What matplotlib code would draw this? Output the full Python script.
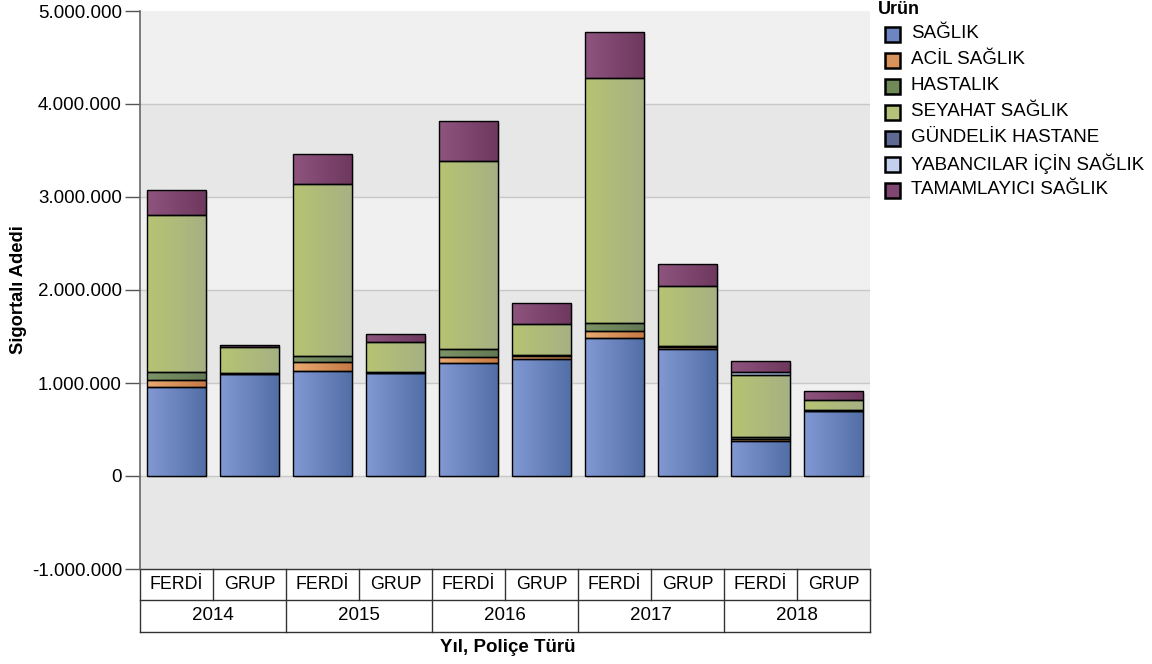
import numpy as np
import matplotlib
matplotlib.use("Agg")
import matplotlib.pyplot as plt
from matplotlib.patches import Rectangle
from matplotlib.transforms import blended_transform_factory

plt.rcParams['font.family'] = ['Liberation Sans', 'DejaVu Sans']

years = ["2014", "2015", "2016", "2017", "2018"]
policy_types = ["FERDİ", "GRUP"]
products = ["SAĞLIK", "ACİL SAĞLIK", "HASTALIK", "SEYAHAT SAĞLIK",
            "GÜNDELİK HASTANE", "YABANCILAR İÇİN SAĞLIK", "TAMAMLAYICI SAĞLIK"]

# order: 2014 F, 2014 G, 2015 F, 2015 G, ... 2018 F, 2018 G
saglik      = [954000, 1097000, 1126000, 1108000, 1218000, 1254000, 1484000, 1362000, 380000, 699000]
acil        = [75000, 4000, 96000, 3000, 65000, 40000, 75000, 29000, 21000, 3000]
hastalik    = [86000, 6000, 65000, 5000, 79000, 3000, 83000, 3000, 22000, 3000]
seyahat     = [1695000, 280000, 1856000, 328000, 2022000, 334000, 2638000, 648000, 660000, 116000]
gundelik    = [0, 0, 0, 0, 0, 0, 0, 0, 0, 0]
yabancilar  = [0, 0, 0, 0, 0, 0, 0, 0, 35000, 0]
tamamlayici = [262000, 18000, 319000, 79000, 433000, 233000, 494000, 237000, 119000, 93000]

series = [saglik, acil, hastalik, seyahat, gundelik, yabancilar, tamamlayici]

grad_colors = [
    ((130, 153, 212), (82, 110, 166)),
    ((232, 170, 112), (198, 120, 68)),
    ((124, 148, 102), (98, 120, 84)),
    ((182, 196, 114), (166, 176, 132)),
    ((104, 114, 156), (80, 90, 130)),
    ((196, 210, 238), (160, 180, 222)),
    ((142, 84, 126), (110, 56, 94)),
]
legend_colors = ["#6d86c2", "#d8925a", "#6f8a58", "#b4c27a", "#5f6a94", "#c2d0ee", "#7e4670"]

W, H = 1152, 664
fig = plt.figure(figsize=(W / 100, H / 100), dpi=100)
fig.patch.set_facecolor("white")
ax = fig.add_axes([140 / W, (H - 569) / H, 730 / W, 558 / H])

ymin, ymax = -1_000_000, 5_000_000
n = len(saglik)
x = np.arange(n)
ax.set_xlim(-0.5, n - 0.5)
ax.set_ylim(ymin, ymax)

# background bands
ticks = np.arange(ymin, ymax + 1, 1_000_000)
for i in range(len(ticks) - 1):
    lo, hi = ticks[i], ticks[i + 1]
    c = "#f0f0f0" if (i % 2 == 1) else "#e7e7e7"
    ax.axhspan(lo, hi, color=c, zorder=0, lw=0)
for t in ticks[1:-1]:
    ax.axhline(t, color="#c8c8c8", lw=1.0, zorder=1)

bw = 0.81
totals = np.sum(np.array(series, dtype=float), axis=0)
# subtle shadow
ax.bar(x + 0.03, totals, bottom=-21000, width=bw, color="#b8b8b8", alpha=0.5, lw=0, zorder=2)

bottom = np.zeros(n)
for s, (cl, cr) in zip(series, grad_colors):
    vals = np.array(s, dtype=float)
    grad = np.linspace(0, 1, 64)[None, :, None]
    img = (np.array(cl)[None, None, :] * (1 - grad) + np.array(cr)[None, None, :] * grad) / 255.0
    bars = ax.bar(x, vals, bottom=bottom, width=bw, facecolor="none",
                  edgecolor="black", lw=1.0, zorder=4)
    for xi, v, b, patch in zip(x, vals, bottom, bars.patches):
        if v <= 0:
            patch.set_visible(False)
            continue
        im = ax.imshow(img, extent=[xi - bw / 2, xi + bw / 2, b, b + v],
                       aspect="auto", zorder=3, interpolation="bilinear")
        im.set_clip_path(patch)
    bottom += vals

ax.set_xlim(-0.5, n - 0.5)
ax.set_ylim(ymin, ymax)
ax.set_aspect("auto")

fs = 13.5
ax.set_yticks(ticks)
ax.set_yticklabels([f"{int(t):,}".replace(",", ".") for t in ticks], fontsize=fs)
ax.tick_params(axis="y", length=11, width=1, color="#555555", pad=2)
ax.set_xticks([])
for sp in ["top", "right", "bottom"]:
    ax.spines[sp].set_visible(False)
ax.spines["left"].set_color("#666666")
ax.spines["left"].set_linewidth(1.2)

ax.set_ylabel("Sigortalı Adedi", fontsize=13.2, fontweight="bold")
ax.yaxis.set_label_coords(-(140 - 27) / 730, 0.5)

# category table below axis
tr = blended_transform_factory(ax.transData, ax.transAxes)
r1 = -31 / 558
r2 = -63 / 558
lc = "#333333"
for yv in [0, r1, r2]:
    ax.plot([-0.5, n - 0.5], [yv, yv], transform=tr, color=lc, lw=1.0, clip_on=False)
for i in range(n + 1):
    xe = i - 0.5
    ax.plot([xe, xe], [0, r1 if i % 2 == 1 else r2], transform=tr,
            color=lc, lw=1.0, clip_on=False)
for i in range(n):
    ax.text(i, r1 / 2, policy_types[i % 2], transform=tr, ha="center", va="center", fontsize=12.8)
for j, yr in enumerate(years):
    ax.text(2 * j + 0.5, (r1 + r2) / 2, yr, transform=tr, ha="center", va="center", fontsize=fs)
fig.text(508 / W, 1 - 648 / H, "Yıl, Poliçe Türü", ha="center", va="center",
         fontsize=13.5, fontweight="bold")

# legend
fig.text(878 / W, 1 - 10 / H, "Ürün", ha="left", va="center", fontsize=13, fontweight="bold")
for i, (name, c) in enumerate(zip(products, legend_colors)):
    yc = 34 + 26 * i
    fig.patches.append(Rectangle((885 / W, 1 - (yc + 7.5) / H), 15 / W, 15 / H,
                                 transform=fig.transFigure, facecolor=c,
                                 edgecolor="black", lw=1.8))
    fig.text(911 / W, 1 - yc / H, name, ha="left", va="center", fontsize=fs)

fig.savefig("out.png", dpi=100)
